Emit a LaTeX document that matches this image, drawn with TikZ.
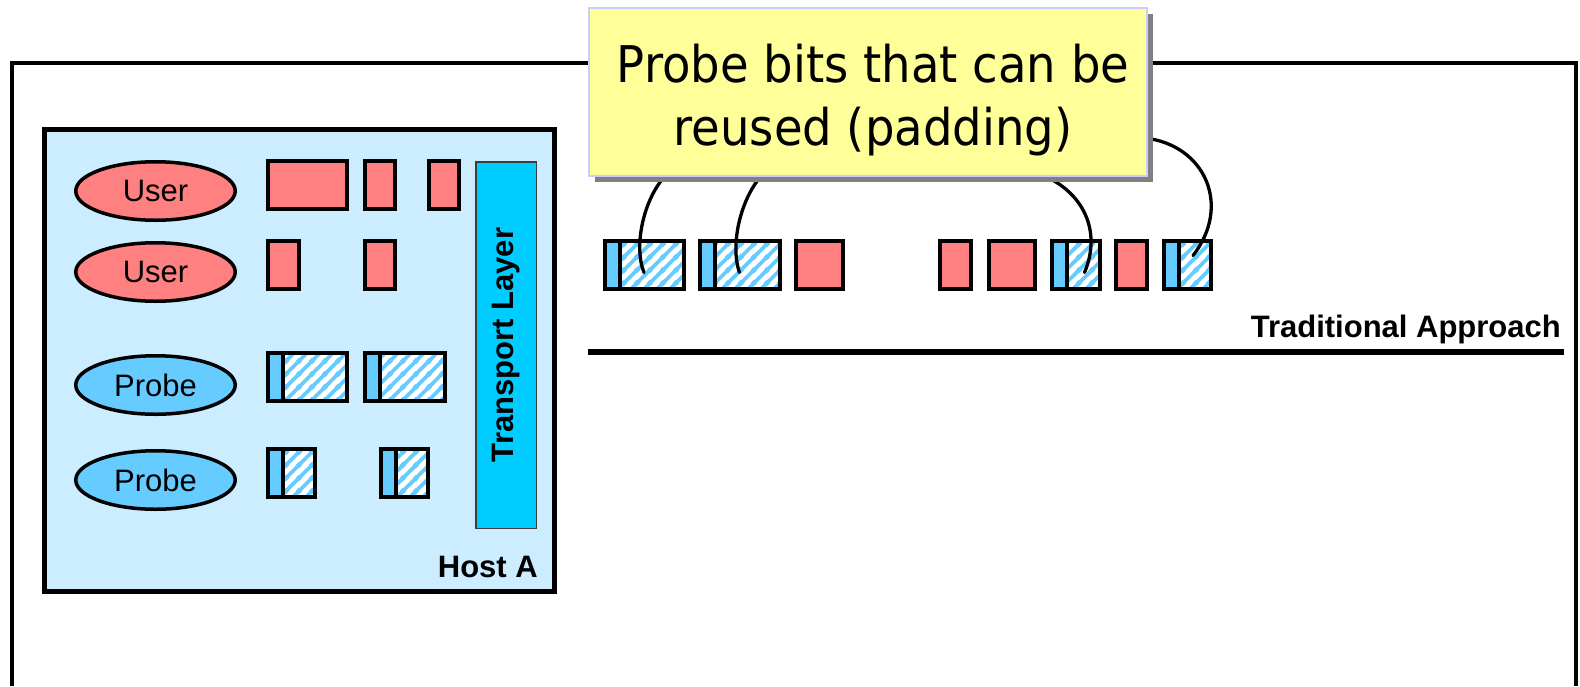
\documentclass[tikz,border=0pt]{standalone}
\usepackage{fontspec}
\setmainfont{Liberation Sans}
\newfontfamily\notefont[FakeStretch=0.92]{DejaVu Sans}
\usetikzlibrary{positioning, calc, shapes.geometric, shadows, patterns.meta}

\definecolor{hostblue}{RGB}{204,236,255}
\definecolor{userred}{RGB}{255,128,128}
\definecolor{probeblue}{RGB}{102,204,255}
\definecolor{layercyan}{RGB}{0,204,255}
\definecolor{layeredge}{RGB}{60,60,60}
\definecolor{noteyellow}{RGB}{255,255,153}
\definecolor{noteedge}{RGB}{204,204,255}
\definecolor{shadowgray}{RGB}{128,128,128}

\pgfdeclarelayer{front}
\pgfsetlayers{main,front}

% diagonal stripes for the reusable padding part of a probe packet
\tikzdeclarepattern{
  name=padstripes,
  type=uncolored,
  bounding box={(0pt,0pt) and (13pt,13pt)},
  tile size={(13pt,13pt)},
  code={
    \draw[line width=4pt] (-3pt,-3pt) -- (16pt,16pt);
    \draw[line width=4pt] (-6.5pt,6.5pt) -- (6.5pt,19.5pt);
    \draw[line width=4pt] (6.5pt,-6.5pt) -- (19.5pt,6.5pt);
  }
}

\begin{document}
\begin{tikzpicture}[x=1pt, y=-1pt,
  pkt/.style={draw, line width=4pt, minimum height=48pt, inner sep=0pt, outer sep=0pt},
  upkt/.style={pkt, fill=userred},
  phead/.style={pkt, fill=probeblue, minimum width=15pt},
  pbody/.style={pkt, preaction={fill=white}, pattern=padstripes, pattern color=probeblue},
  app/.style={ellipse, draw, line width=3.5pt, minimum width=159.5pt, minimum height=58.5pt, inner sep=0pt, font=\fontsize{31}{37}\selectfont},
  host/.style={draw, line width=5pt, fill=hostblue, minimum width=510pt, minimum height=462pt},
  tlayer/.style={draw=layeredge, line width=1.5pt, fill=layercyan, minimum width=366.5pt, minimum height=60.5pt, font=\bfseries\fontsize{31}{37}\selectfont},
  lbl/.style={inner sep=0pt, font=\bfseries\fontsize{31}{37}\selectfont},
  note/.style={draw=noteedge, line width=2pt, fill=noteyellow, minimum width=558pt, minimum height=168pt,
    drop shadow={shadow xshift=6pt, shadow yshift=-6pt, fill=shadowgray, opacity=1}},
  notetext/.style={inner sep=0pt, align=center, font=\notefont\fontsize{50.6}{63}\selectfont},
  fiber/.style={line width=3.3pt, line cap=round}
]
  \useasboundingbox (0,0) rectangle (1580,686);
  \fill[white] (0,0) rectangle (1580,686);

  % outer frame
  \draw[line width=3.5pt] (12,686) -- (12,63) -- (1576,63) -- (1576,686);

  % sending host
  \node[host] (hostA) at (299.5,360.5) {};
  \node[app, fill=userred] (user1) at (155.5,191) {User};
  \node[app, fill=userred] (user2) at (155.5,272) {User};
  \node[app, fill=probeblue] (probe1) at (155.5,385) {Probe};
  \node[app, fill=probeblue] (probe2) at (155.5,480) {Probe};

  \node[upkt, anchor=west, minimum width=79pt] (u11) at (268,185) {};
  \node[upkt, anchor=west, minimum width=30pt] (u12) at (365,185) {};
  \node[upkt, anchor=west, minimum width=30pt] (u13) at (429,185) {};
  \node[upkt, anchor=west, minimum width=31pt] (u21) at (268,265) {};
  \node[upkt, anchor=west, minimum width=30pt] (u22) at (365,265) {};

  \node[phead, anchor=west] (h31) at (268,377) {};
  \node[pbody, right=0pt of h31, minimum width=64pt] (b31) {};
  \node[phead, anchor=west] (h32) at (365,377) {};
  \node[pbody, right=0pt of h32, minimum width=64.5pt] (b32) {};
  \node[phead, anchor=west] (h41) at (268,473) {};
  \node[pbody, right=0pt of h41, minimum width=32pt] (b41) {};
  \node[phead, anchor=west] (h42) at (381,473) {};
  \node[pbody, right=0pt of h42, minimum width=32pt] (b42) {};

  \node[tlayer, rotate=90] (tl) at (506,345) {Transport Layer};
  \node[lbl, anchor=base east] (hostlbl) at (538,577) {Host A};

  % packets on the wire
  \node[phead, anchor=west] (h1) at (605,264.5) {};
  \node[pbody, right=0pt of h1, minimum width=64pt] (b1) {};
  \node[phead, anchor=west] (h2) at (700,264.5) {};
  \node[pbody, right=0pt of h2, minimum width=65pt] (b2) {};
  \node[upkt, anchor=west, minimum width=47pt] (r3) at (796,264.5) {};
  \node[upkt, anchor=west, minimum width=31pt] (r4) at (940,264.5) {};
  \node[upkt, anchor=west, minimum width=46pt] (r5) at (989,264.5) {};
  \node[phead, anchor=west] (h6) at (1052,264.5) {};
  \node[pbody, right=0pt of h6, minimum width=33pt] (b6) {};
  \node[upkt, anchor=west, minimum width=31pt] (r7) at (1116,264.5) {};
  \node[phead, anchor=west] (h8) at (1164,264.5) {};
  \node[pbody, right=0pt of h8, minimum width=32pt] (b8) {};

  \node[lbl, anchor=base east] (approach) at (1561,337) {Traditional Approach};
  \draw[line width=6.5pt] (588,352) -- (1564,352);

  % callout on top, its leader lines run underneath
  \begin{pgfonlayer}{front}
    \node[note] (note) at (868,92) {};
    \node[notetext, anchor=north] (notetxt) at (873,43.5) {Probe bits that can be\\reused (padding)};
  \end{pgfonlayer}
  \draw[fiber] ($(note.south west)+(81,-5)$) .. controls +(-25,23) and +(-11,-27) .. ($(b1.center)+(-8,8)$);
  \draw[fiber] ($(note.south west)+(177,-5)$) .. controls +(-24,23) and +(-10,-28) .. ($(b2.center)+(-8,8)$);
  \draw[fiber] ($(note.south east)+(-108,-3)$) .. controls +(45,18) and +(17,-40) .. ($(b6.center)+(1,8)$);
  \draw[fiber] ($(note.south east)+(-3,-39)$) .. controls +(60,7) and +(39,-50) .. ($(b8.center)+(-2,-9)$);
\end{tikzpicture}
\end{document}
